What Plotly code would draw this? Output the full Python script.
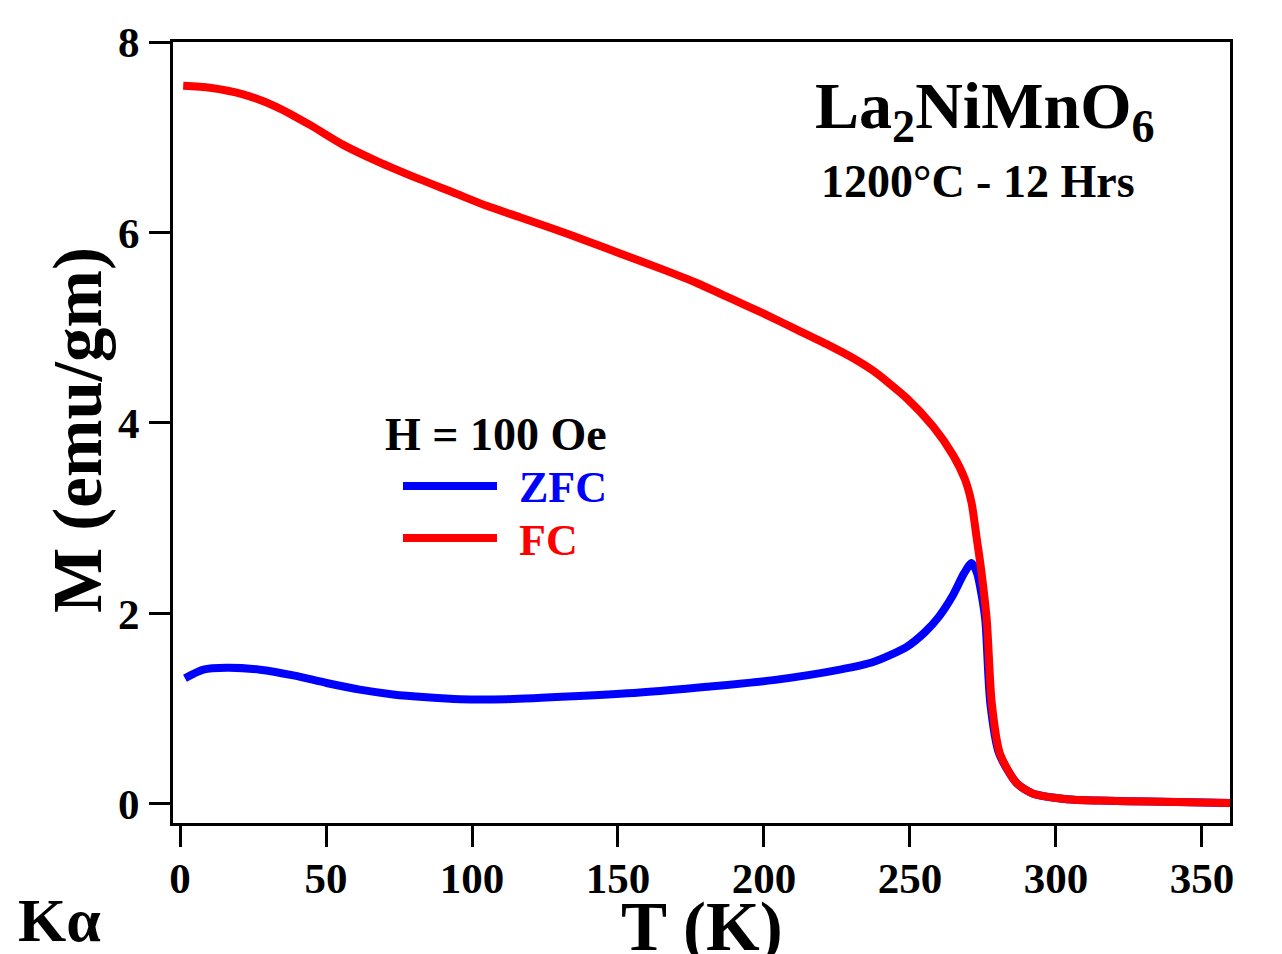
import plotly.graph_objects as go

# ---- data ----
T_fc = [1.1, 10.3, 21.6, 33, 44.5, 55.9, 67.4, 82, 93.6, 105, 116.4, 127.8, 139.3, 150.7, 165.5,
        177, 188.4, 199.8, 211.2, 222.6, 230, 237.3, 248.9, 258, 264.8, 268.8, 271.1, 272.8, 274.2,
        276.3, 278, 280.8, 286.5, 292, 303.7, 315, 332, 359.6]
M_fc = [7.54, 7.52, 7.45, 7.32, 7.13, 6.92, 6.75, 6.56, 6.42, 6.28, 6.16, 6.04, 5.91, 5.78, 5.61,
        5.47, 5.31, 5.15, 4.98, 4.81, 4.69, 4.55, 4.26, 3.96, 3.66, 3.41, 3.16, 2.80, 2.50,
        1.93, 1.06, 0.53, 0.22, 0.11, 0.05, 0.035, 0.025, 0.01]

T_zfc = [1.7, 8, 16, 27.4, 38.8, 50.2, 61.6, 73, 84.5, 95.9, 111.9, 134.7, 157.5, 180.4, 203.2,
         226, 237.4, 248.9, 255, 260, 264.5, 268.5, 271.1, 273, 274.5, 275.8, 277.5, 280.5,
         286.5, 292, 303.7, 315, 332, 359.6]
M_zfc = [1.32, 1.41, 1.43, 1.41, 1.35, 1.27, 1.20, 1.15, 1.12, 1.10, 1.10, 1.13, 1.17, 1.23, 1.30,
         1.41, 1.49, 1.65, 1.80, 1.97, 2.18, 2.42, 2.53, 2.42, 2.20, 1.93, 1.06, 0.53,
         0.22, 0.11, 0.05, 0.035, 0.025, 0.01]

x_ticks = [0, 50, 100, 150, 200, 250, 300, 350]
y_ticks = [0, 2, 4, 6, 8]

FONT = "Liberation Serif, Times New Roman, serif"

fig = go.Figure()
fig.add_trace(go.Scatter(x=T_zfc, y=M_zfc, mode="lines", name="ZFC",
                         line=dict(color="#0000FF", width=8, shape="spline", smoothing=0.7)))
fig.add_trace(go.Scatter(x=T_fc, y=M_fc, mode="lines", name="FC",
                         line=dict(color="#FF0000", width=8, shape="spline", smoothing=0.7)))

axis_common = dict(showline=True, linecolor="black", linewidth=3, mirror=True,
                   ticks="outside", ticklen=21, tickwidth=3, tickcolor="black",
                   showgrid=False, zeroline=False,
                   tickfont=dict(family=FONT, size=43, color="black", weight="bold"))

fig.update_xaxes(range=[-2.4, 359.6], tickvals=x_ticks, ticklabelstandoff=-6, **axis_common)
fig.update_yaxes(range=[-0.2, 8.0], tickvals=y_ticks, ticklabelstandoff=1, **axis_common)

annotations = [
    dict(text="T (K)", x=0.5, y=-0.133, font=dict(size=69)),
    dict(text="M (emu/gm)", x=-0.09, y=0.503, textangle=-90, font=dict(size=69)),
    dict(text="Kα", x=-0.107, y=-0.124, font=dict(size=62)),
    dict(text="La<sub>2</sub>NiMnO<sub>6</sub>", x=0.768, y=0.912, font=dict(size=66)),
    dict(text="1200°C - 12 Hrs", x=0.7616, y=0.821, font=dict(size=46)),
    dict(text="H = 100 Oe", x=0.1987, y=0.498, xanchor="left", font=dict(size=46)),
    dict(text="ZFC", x=0.3254, y=0.430, xanchor="left", font=dict(size=44, color="#0000FF")),
    dict(text="FC", x=0.3254, y=0.362, xanchor="left", font=dict(size=44, color="#FF0000")),
]
for a in annotations:
    f = dict(family=FONT, color="black", weight="bold")
    f.update(a.pop("font"))
    a.setdefault("xanchor", "center")
    fig.add_annotation(xref="paper", yref="paper", yanchor="middle", showarrow=False,
                       font=f, **a)

fig.add_shape(type="line", xref="paper", yref="paper", x0=0.2176, x1=0.3065, y0=0.4315, y1=0.4315,
              line=dict(color="#0000FF", width=8))
fig.add_shape(type="line", xref="paper", yref="paper", x0=0.2176, x1=0.3065, y0=0.365, y1=0.365,
              line=dict(color="#FF0000", width=8))

# page body has an 8px margin, so the figure itself is offset by 8px
fig.update_layout(width=1282, height=954, autosize=False,
                  margin=dict(l=165, r=60, t=34, b=139),
                  paper_bgcolor="white", plot_bgcolor="white", showlegend=False)

fig.write_html("out.html")
